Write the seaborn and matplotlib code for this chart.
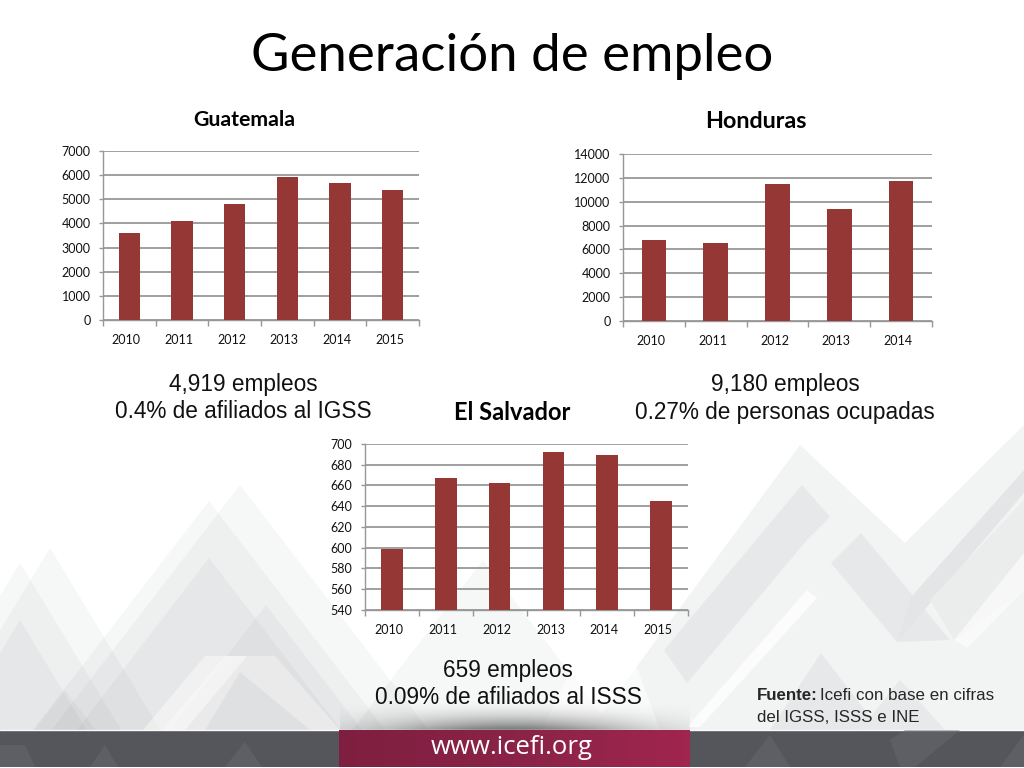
import matplotlib
matplotlib.use("Agg")
import matplotlib.pyplot as plt
from matplotlib.colors import LinearSegmentedColormap
from matplotlib.patches import Polygon, Rectangle
from matplotlib.transforms import ScaledTranslation
import numpy as np
import seaborn as sns

years_gt = ["2010", "2011", "2012", "2013", "2014", "2015"]
empleo_gt = [3590, 4085, 4787, 5942, 5695, 5405]
ticks_gt = [0, 1000, 2000, 3000, 4000, 5000, 6000, 7000]

years_hn = ["2010", "2011", "2012", "2013", "2014"]
empleo_hn = [6816, 6508, 11508, 9413, 11704]
ticks_hn = [0, 2000, 4000, 6000, 8000, 10000, 12000, 14000]

years_sv = ["2010", "2011", "2012", "2013", "2014", "2015"]
empleo_sv = [599, 667, 662, 692, 689, 645]
ticks_sv = [540, 560, 580, 600, 620, 640, 660, 680, 700]

W, H = 1024, 768
BAR = "#953735"
GRID = "#979797"
CAL = ["Lato", "DejaVu Sans"]
ARIAL = ["Liberation Sans", "DejaVu Sans"]

sns.set_theme(style="white")
plt.rcParams["font.family"] = CAL

fig = plt.figure(figsize=(W / 100, H / 100), dpi=100)

# slide background, in pixels
bg = fig.add_axes([0, 0, 1, 1], zorder=0)
bg.axis("off")


def poly(points, col, alpha=1.0, z=1):
    bg.add_patch(Polygon(points, closed=True, facecolor=col, alpha=alpha, edgecolor="none", zorder=z))


# left mountains (peak x, peak y, slope)
for px, py, slope in [(50, 548, 1.65), (20, 563, 1.65), (20, 620, 1.65), (240, 485, 1.3),
                      (209, 501, 1.3), (209, 558, 1.3), (266, 605, 1.3), (65, 690, 1.3),
                      (483, 560, 1.3)]:
    hw = (730 - py) / slope
    poly([(px - hw, 730), (px, py), (px + hw, 730)], "#5f6368", 0.05)

# pale white chevrons on the left
poly([(143, 730), (205, 656), (247, 656), (185, 730)], "#ffffff", 0.45)
poly([(162, 730), (225, 656), (275, 656), (340, 730), (310, 730), (240, 672), (205, 730)], "#ffffff", 0.35)

# right side zigzag
poly([(590, 730), (800, 445), (905, 543), (1024, 425), (1024, 730)], "#f2f3f3", 1.0)
poly([(664, 650), (802, 485), (830, 517), (807, 540), (687, 683)], "#e7e8e9")
poly([(861, 533), (950, 640), (897, 642), (831, 563)], "#e7e8e9")
poly([(897, 642), (911, 597), (1024, 470), (1024, 493)], "#e4e5e6")
poly([(1024, 500), (1024, 590), (954, 640), (930, 600)], "#ebecec")
poly([(807, 590), (687, 727), (700, 727), (817, 598)], "#ffffff", 0.8)
poly([(954, 640), (1024, 553), (1024, 590), (967, 648)], "#fbfbfb", 0.8)
poly([(821, 653), (770, 730), (880, 730)], "#e7e8e9")
poly([(900, 680), (860, 730), (945, 730)], "#e8e9ea")
poly([(542, 730), (585, 640), (627, 640), (660, 730)], "#ffffff", 0.6)

# shadow above the crimson band
yy, xx = np.mgrid[695:730, 340:690]
glow = np.exp(-((xx - 510) / 130.0) ** 2) * np.clip((yy - 698) / 32.0, 0, 1) ** 2
shade = np.zeros(glow.shape + (4,))
shade[..., 3] = 0.55 * glow
bg.imshow(shade, extent=(340, 690, 730, 695), aspect="auto", zorder=2)

# bottom band with its faint diamonds
bg.add_patch(Rectangle((0, 730), W, 37, facecolor="#55565b", edgecolor="none", zorder=3))
bg.plot([0, W], [729.5, 729.5], color="#fafafa", linewidth=1, zorder=3)
for points in [[(0, 745), (25, 745), (35, 767), (0, 767)],
               [(90, 767), (105, 745), (118, 767)],
               [(225, 767), (245, 742), (262, 767)],
               [(745, 767), (770, 735), (790, 767)],
               [(890, 740), (905, 730), (960, 730), (915, 767), (900, 767)],
               [(1000, 767), (1024, 735), (1024, 767)]]:
    poly(points, "#6b6c70", 0.45, z=3)

crimson = LinearSegmentedColormap.from_list("crimson", ["#7f1f40", "#8a2347", "#a0254f"])
bg.imshow(np.linspace(0, 1, 64)[None, :], cmap=crimson, extent=(339, 690, 767, 730), aspect="auto", zorder=4)
bg.text(512, 747, "www.icefi.org", color="white", fontsize=18.5, ha="center", va="center",
        family=["Open Sans", "DejaVu Sans"], zorder=5)

bg.set_xlim(0, W)
bg.set_ylim(H, 0)

bg.text(512, 56, "Generación de empleo", fontsize=38, ha="center", va="center", color="black")


def texto(x, y, s, size=16.3):
    bg.text(x, y, s, fontsize=size, ha="center", va="center", family=ARIAL, color="#111111")


texto(243, 384, "4,919 empleos")
texto(243, 412, "0.4% de afiliados al IGSS")
texto(785, 384, "9,180 empleos")
texto(785, 412, "0.27% de personas ocupadas")
texto(508, 670, "659 empleos")
texto(508, 698, "0.09% de afiliados al ISSS")

bg.text(757, 696, "Fuente:", fontsize=12.2, fontweight="bold", ha="left", va="center", family=ARIAL)
bg.text(820, 696, "Icefi con base en cifras", fontsize=12.2, ha="left", va="center", family=ARIAL)
bg.text(757, 717, "del IGSS, ISSS e INE", fontsize=12.2, ha="left", va="center", family=ARIAL)


def bar_chart(box, years, values, ticks, title, title_xy, title_size):
    left, top, right, bottom = box
    ax = fig.add_axes([left / W, 1 - bottom / H, (right - left) / W, (bottom - top) / H], zorder=2)
    ax.patch.set_alpha(0)
    sns.barplot(x=years, y=values, color=BAR, saturation=1, width=0.4, linewidth=0, ax=ax, zorder=3)
    ax.set_xlim(-0.5, len(years) - 0.5)
    ax.set_ylim(ticks[0], ticks[-1])
    ax.set_yticks(ticks)
    ax.set_xticks(np.arange(len(years) + 1) - 0.5, minor=True)
    ax.yaxis.grid(True, color=GRID, linewidth=1.3, zorder=1)
    ax.set_axisbelow(True)
    for side in ["top", "right"]:
        ax.spines[side].set_visible(False)
    for side in ["left", "bottom"]:
        ax.spines[side].set_color(GRID)
        ax.spines[side].set_linewidth(1)
    ax.tick_params(axis="y", which="major", length=3, width=1, color=GRID, labelsize=9,
                   labelcolor="#111111", pad=6, left=True)
    ax.tick_params(axis="x", which="major", length=0, labelsize=9, labelcolor="#111111", pad=10)
    ax.tick_params(axis="x", which="minor", length=4, width=1, color=GRID, bottom=True)
    # year labels sit a little left of the bars in the original
    shift = ScaledTranslation(-3 / 100, 0, fig.dpi_scale_trans)
    for lab in ax.get_xticklabels():
        lab.set_transform(lab.get_transform() + shift)
    bg.text(title_xy[0], title_xy[1], title, fontsize=title_size, fontweight="bold",
            ha="center", va="center", color="black")
    return ax


bar_chart((103, 151, 419, 320), years_gt, empleo_gt, ticks_gt, "Guatemala", (244, 120), 15.3)
bar_chart((623, 154, 932, 321), years_hn, empleo_hn, ticks_hn, "Honduras", (756, 122), 16.8)
bar_chart((365, 444, 688, 610), years_sv, empleo_sv, ticks_sv, "El Salvador", (512, 412), 17)

fig.savefig("out.png", dpi=100)
